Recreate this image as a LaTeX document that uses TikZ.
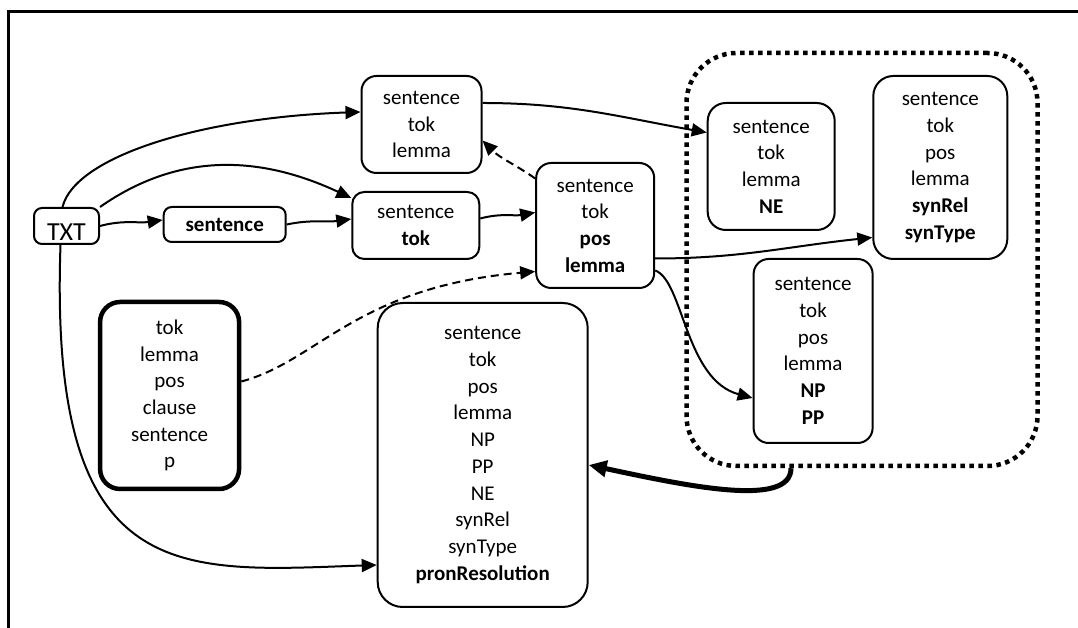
\documentclass[tikz,border=0pt]{standalone}
\usepackage{fontspec}
\setmainfont{Carlito}
\usetikzlibrary{arrows.meta}

\begin{document}
\begin{tikzpicture}[x=1pt, y=1pt,
        stage/.style={draw, line width=2pt, rounded corners=#1, align=center, inner sep=0pt, font=\fontsize{21}{26.7}\selectfont},
        stage/.default=14pt,
        flow/.style={line width=2pt, -{Triangle[length=15pt, width=13pt]}},
        dashflow/.style={flow, dash pattern=on 8pt off 5pt},
        bigflow/.style={line width=5pt, -{Triangle[length=18pt, width=16pt]}}]
                \useasboundingbox (0,0) rectangle (1078,628);
                \draw[line width=2.5pt] (8.5,0) -- (8.5,616.5) -- (1078,616.5);
                \node[draw, line width=4.5pt, dash pattern=on 4.5pt off 4.5pt, rounded corners=50pt, minimum width=351pt, minimum height=413pt] at (862,368.5) (grp) {};
                \node[stage=8pt, minimum width=65pt, minimum height=36pt, text height=29pt, text depth=0pt, font=\fontsize{26}{30}\selectfont] at (66.5,402) (txt) {TXT};
                \node[stage=8pt, minimum width=122pt, minimum height=35pt] at (224.7,403.5) (sent) {\textbf{sentence}};
                \node[stage=12pt, minimum width=127pt, minimum height=67pt] at (415.8,402.5) (tok) {sentence\\\textbf{tok}};
                \node[stage=15pt, minimum width=120pt, minimum height=97pt] at (421.5,503.5) (lem) {sentence\\tok\\lemma};
                \node[stage=15pt, minimum width=118pt, minimum height=125pt] at (595.2,402.5) (pos) {sentence\\tok\\\textbf{pos}\\\textbf{lemma}};
                \node[stage=18pt, minimum width=127pt, minimum height=127pt] at (771.2,461.5) (ne) {sentence\\tok\\lemma\\\textbf{NE}};
                \node[stage=20pt, minimum width=134pt, minimum height=183pt] at (940.3,460.5) (syn) {sentence\\tok\\pos\\lemma\\\textbf{synRel}\\\textbf{synType}};
                \node[stage=15pt, minimum width=119pt, minimum height=184pt] at (813.1,277) (np) {sentence\\tok\\pos\\lemma\\\textbf{NP}\\\textbf{PP}};
                \node[stage=20pt, line width=4.5pt, minimum width=139pt, minimum height=187pt] at (169.6,232.5) (lex) {tok\\lemma\\pos\\clause\\sentence\\p};
                \node[stage=25pt, minimum width=210pt, minimum height=304pt] at (482.7,173) (pron) {sentence\\tok\\pos\\lemma\\NP\\PP\\NE\\synRel\\synType\\\textbf{pronResolution}};
                \draw[flow] (txt.east) to [out=15, in=188] ([yshift=4.5pt]sent.west);
                \draw[flow] (sent.east) to [out=12, in=188] ([yshift=6.5pt]tok.west);
                \draw[flow] (txt.north east) to [out=35, in=155] ([yshift=-7pt]tok.north west);
                \draw[flow] ([xshift=-4pt]txt.north) to [out=76, in=182, out distance=52pt, in distance=160pt] ([yshift=12.5pt]lem.west);
                \draw[flow] ([xshift=-6pt]txt.south) to [out=268, in=182, out distance=344pt, in distance=198pt] ([yshift=-110pt]pron.west);
                \draw[flow] ([yshift=7pt]tok.east) to [out=15, in=190] ([yshift=13pt]pos.west);
                \draw[dashflow] ([yshift=47pt]pos.west) to [out=145, in=-45] ([yshift=-16pt]lem.east);
                \draw[dashflow] ([yshift=14pt]lex.east) to [out=15, in=185, out distance=80pt, in distance=180pt] ([yshift=-46pt]pos.west);
                \draw[flow] ([yshift=21.5pt]lem.east) to [out=0, in=170] ([yshift=34pt]ne.west);
                \draw[flow] ([yshift=-33pt]pos.east) to [out=0, in=186] ([yshift=-70pt]syn.west);
                \draw[flow] ([yshift=-45pt]pos.east) to [out=-20, in=165, out distance=30pt, in distance=70pt] ([yshift=-47pt]np.west);
                \draw[bigflow] ([xshift=-71pt]grp.south) to [out=-90, in=-12, out distance=40pt, in distance=100pt] ([yshift=-10pt]pron.east);
            \end{tikzpicture}
\end{document}
